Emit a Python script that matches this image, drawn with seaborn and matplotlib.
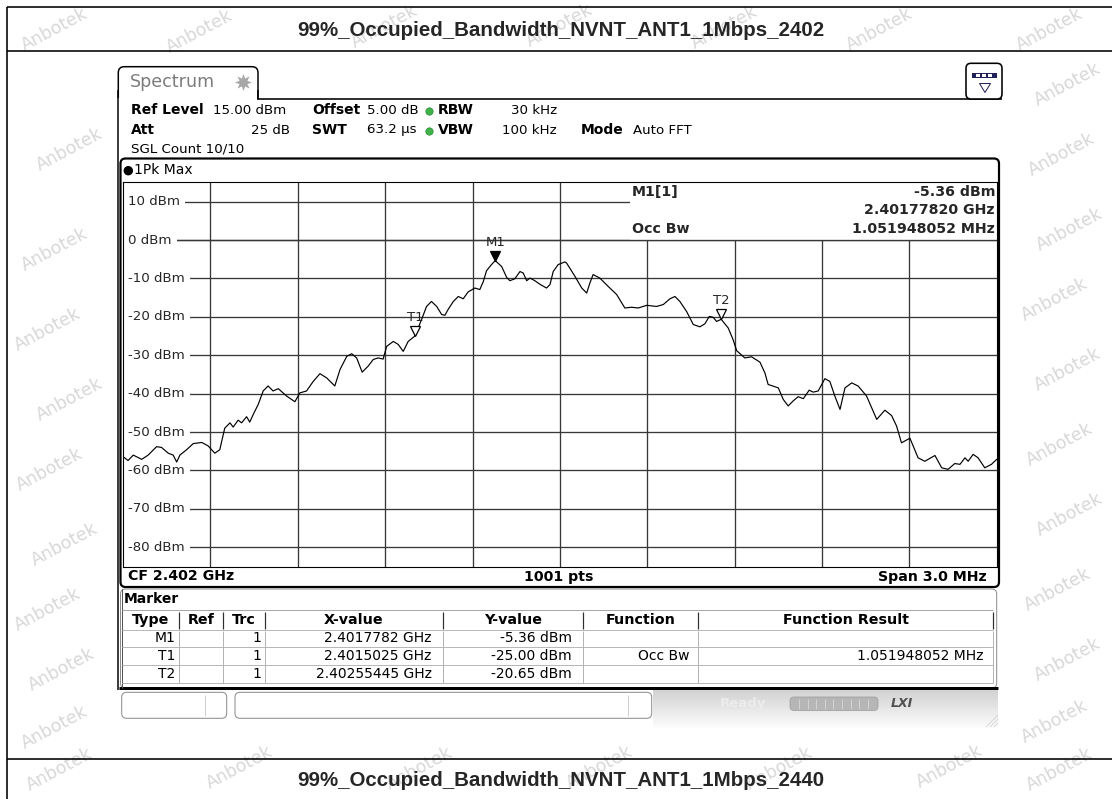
import numpy as np
import pandas as pd
import matplotlib
matplotlib.use("Agg")
import matplotlib.pyplot as plt
import seaborn as sns
from matplotlib.patches import FancyBboxPatch, Rectangle, Polygon
from matplotlib import transforms

# ---------------- data ----------------
page_titles = ["99%_Occupied_Bandwidth_NVNT_ANT1_1Mbps_2402",
               "99%_Occupied_Bandwidth_NVNT_ANT1_1Mbps_2440"]
center_freq_ghz = 2.402
span_mhz = 3.0
ref_level_dbm = 15.0
db_per_div = 10.0
n_points = 1001
level_ticks_dbm = [10, 0, -10, -20, -30, -40, -50, -60, -70, -80]

# trace: offset from centre frequency (MHz) and level (dBm)
trace_offset_mhz = [
    -1.500, -1.483, -1.465, -1.436, -1.414, -1.385, -1.368, -1.345, -1.328, -1.316,
    -1.305, -1.282, -1.259, -1.230, -1.208, -1.185, -1.168, -1.151, -1.133, -1.122,
    -1.105, -1.093, -1.076, -1.065, -1.053, -1.036, -1.019, -1.002, -0.985, -0.967,
    -0.939, -0.910, -0.893, -0.870, -0.847, -0.824, -0.801, -0.773, -0.755, -0.732,
    -0.715, -0.698, -0.679, -0.658, -0.641, -0.624, -0.607, -0.595, -0.572, -0.555,
    -0.538, -0.521, -0.498, -0.475, -0.458, -0.441, -0.423, -0.406, -0.395, -0.384,
    -0.366, -0.349, -0.332, -0.315, -0.292, -0.275, -0.263, -0.252, -0.235, -0.222,
    -0.200, -0.183, -0.172, -0.155, -0.137, -0.126, -0.114, -0.103, -0.086, -0.069,
    -0.046, -0.034, -0.023, -0.006, 0.017, 0.023, 0.052, 0.075, 0.092, 0.103,
    0.114, 0.137, 0.166, 0.195, 0.223, 0.246, 0.269, 0.298, 0.332, 0.355,
    0.378, 0.395, 0.412, 0.435, 0.458, 0.481, 0.498, 0.513, 0.526, 0.538,
    0.554, 0.578, 0.595, 0.607, 0.635, 0.658, 0.687, 0.704, 0.715, 0.750,
    0.767, 0.784, 0.801, 0.818, 0.836, 0.856, 0.870, 0.887, 0.910, 0.927,
    0.944, 0.962, 0.979, 1.002, 1.024, 1.053, 1.088, 1.116, 1.139, 1.156,
    1.173, 1.202, 1.230, 1.253, 1.288, 1.311, 1.333, 1.356, 1.374, 1.391,
    1.402, 1.419, 1.436, 1.459, 1.482, 1.500]
trace_level_dbm = [
    -56.4, -57.4, -56.0, -57.1, -56.0, -53.8, -54.0, -55.5, -56.0, -57.8,
    -56.0, -54.6, -53.0, -52.7, -53.6, -55.5, -54.6, -49.0, -47.6, -48.7,
    -46.9, -47.6, -46.0, -47.4, -45.4, -42.8, -39.3, -38.0, -39.3, -38.7,
    -40.6, -42.1, -39.8, -39.3, -36.8, -34.8, -35.9, -38.0, -33.7, -30.3,
    -29.6, -30.7, -34.4, -32.8, -31.1, -30.7, -31.0, -27.7, -26.4, -27.2,
    -29.0, -26.4, -25.0, -20.7, -17.3, -16.0, -17.3, -19.4, -19.6, -18.1,
    -16.0, -14.7, -15.3, -13.5, -12.5, -12.9, -10.8, -8.0, -6.4, -5.36,
    -6.9, -9.7, -10.6, -10.1, -8.2, -8.6, -10.6, -9.9, -10.6, -11.5,
    -12.5, -11.6, -8.2, -6.4, -5.7, -6.0, -9.5, -12.5, -13.8, -11.2,
    -9.0, -9.9, -12.1, -14.2, -17.7, -17.5, -17.7, -17.0, -17.3, -16.8,
    -15.3, -14.7, -16.0, -18.6, -22.0, -22.6, -21.8, -19.9, -20.1, -21.2,
    -20.65, -22.9, -26.0, -28.8, -30.7, -30.4, -31.8, -34.6, -37.6, -38.5,
    -41.5, -43.2, -41.9, -40.8, -41.3, -39.1, -39.6, -39.3, -36.1, -36.8,
    -40.6, -44.1, -38.5, -37.2, -38.0, -40.6, -46.7, -44.3, -45.7, -48.4,
    -52.8, -51.6, -56.7, -57.6, -56.1, -59.3, -59.7, -58.2, -58.4, -56.7,
    -57.6, -55.8, -56.7, -59.3, -58.4, -57.1]

marker_names = ["M1", "T1", "T2"]
marker_freq_ghz = [2.4017782, 2.4015025, 2.40255445]
marker_freq_text = ["2.4017782 GHz", "2.4015025 GHz", "2.40255445 GHz"]
marker_level_dbm = [-5.36, -25.00, -20.65]
marker_filled = [True, False, False]
marker_trace = ["1", "1", "1"]
marker_function = ["", "Occ Bw", ""]
marker_result = ["", "1.051948052 MHz", ""]
m1_readout_freq = "2.40177820 GHz"
occ_bw_text = "1.051948052 MHz"

table_headers = ["Type", "Ref", "Trc", "X-value", "Y-value", "Function", "Function Result"]

# ---------------- figure ----------------
sns.set_theme(style="white")
plt.rcParams['font.family'] = ['DejaVu Sans']

W, H = 1112, 799
fig = plt.figure(figsize=(W / 100, H / 100), dpi=100)
fig.patch.set_facecolor("white")
bg = fig.add_axes([0, 0, 1, 1], zorder=0)
bg.set_xlim(0, W)
bg.set_ylim(H, 0)
bg.axis("off")

PX = 0.72  # px -> pt


def line(x0, y0, x1, y1, c="black", lw=1.0, z=5):
    bg.plot([x0, x1], [y0, y1], color=c, lw=lw * PX, zorder=z, solid_capstyle="butt")


def txt(x, y, s, size=10, weight="normal", ha="left", va="center", color="black", z=10, **kw):
    bg.text(x, y, s, fontsize=size, fontweight=weight, ha=ha, va=va, color=color, zorder=z, **kw)


# watermarks (kept inside the canvas)
wm = [(55, 30), (200, 32), (385, 27), (560, 26), (725, 28), (880, 30), (1050, 30),
      (70, 150), (55, 250), (48, 330), (70, 400), (50, 470), (65, 545), (48, 610),
      (62, 670), (55, 728), (1068, 85), (1062, 155), (1070, 230), (1055, 300), (1068, 370),
      (1060, 445), (1070, 515), (1058, 590), (1068, 660), (1055, 722),
      (60, 770), (240, 768), (420, 769), (600, 768), (780, 769), (950, 767), (1060, 770)]
for (x, y) in wm:
    txt(x, y, "Anbotek", size=12.5, color="#d8d8d8", ha="center", rotation=28, z=1)

# white area of the screenshot
bg.add_patch(Rectangle((115, 60), 888, 685, fc="white", ec="none", zorder=2))

# page table lines
line(6.7, 7.3, W, 7.3, lw=1.6, z=3)
line(6.7, 7.3, 6.7, H, lw=1.6, z=3)
line(6.7, 50.7, W, 50.7, lw=1.6, z=3)
line(6.7, 759.3, W, 759.3, lw=1.6, z=3)
for yy, t in zip([30, 781], page_titles):
    bg.text(561, yy, t, fontsize=14.8, fontweight="bold", family=["Liberation Sans", "DejaVu Sans"],
            ha="center", va="center", zorder=4)

# tab "Spectrum"
bg.add_patch(FancyBboxPatch((118.3, 66.7), 139.7, 60, boxstyle="round,pad=0,rounding_size=6",
                            fc="white", ec="black", lw=1.5 * PX, zorder=4))
bg.add_patch(Rectangle((116, 98.0), 150, 40, fc="white", ec="none", zorder=4.5))
line(118.3, 90, 118.3, 690, lw=1.5, z=5)
line(258, 90, 258, 98.7, lw=1.5, z=5)
line(257.3, 98.7, 1002, 98.7, lw=1.6, z=5)
txt(130, 82, "Spectrum", size=12.6, color="#7c7c7c", z=6)
bg.scatter([243], [81.5], marker=(8, 1, 0), s=150, color="#a8a8a8", zorder=6, linewidths=0)

# icon box top right
bg.add_patch(FancyBboxPatch((966, 63.3), 36, 35.7, boxstyle="round,pad=0,rounding_size=5",
                            fc="white", ec="black", lw=1.6 * PX, zorder=6))
bg.add_patch(Rectangle((972, 72.7), 25, 5.6, fc="#20205a", ec="none", zorder=7))
for xx in [975.5, 981.5, 987.5]:
    bg.add_patch(Rectangle((xx, 73.9), 4.2, 3.2, fc="white", ec="none", zorder=7.5))
bg.add_patch(Polygon([(979.5, 83.5), (990.5, 83.5), (985, 92.5)], closed=True,
                     fc="white", ec="#20205a", lw=1.0 * PX, zorder=7))

# settings block
vs = 9.6
txt(131, 110, "Ref Level", weight="bold")
txt(213, 110, "15.00 dBm", size=vs)
txt(312, 110, "Offset", weight="bold")
txt(367, 110, "5.00 dB", size=vs)
txt(438, 110, "RBW", weight="bold")
txt(557, 110, "30 kHz", ha="right", size=vs)
txt(131, 130, "Att", weight="bold")
txt(290, 130, "25 dB", ha="right", size=vs)
txt(312, 130, "SWT", weight="bold")
txt(367, 130, "63.2 µs", size=vs)
txt(438, 130, "VBW", weight="bold")
txt(557, 130, "100 kHz", ha="right", size=vs)
txt(581, 130, "Mode", weight="bold")
txt(633, 130, "Auto FFT", size=vs)
txt(131, 149, "SGL Count 10/10", size=vs)
bg.scatter([429, 429], [110.5, 130.5], s=28, color="#3fb24a", edgecolors="#2c8a35",
           linewidths=0.5, zorder=8)

# plot panel frame
bg.add_patch(FancyBboxPatch((120.5, 158.5), 878.5, 428.5, boxstyle="round,pad=0,rounding_size=5",
                            fc="white", ec="black", lw=2.2 * PX, zorder=5))
bg.add_patch(plt.Circle((128.3, 170.7), 4.0, color="black", zorder=6))
txt(134.5, 170.5, "1Pk Max", size=10)
txt(127.5, 576.5, "CF {:.3f} GHz".format(center_freq_ghz), weight="bold", size=10.2)
txt(558.5, 576.5, "{} pts".format(n_points), weight="bold", size=10.2, ha="center")
txt(987, 576.5, "Span {:.1f} MHz".format(span_mhz), weight="bold", size=10.2, ha="right")

# marker panel
bg.add_patch(FancyBboxPatch((120.5, 589), 876.2, 99, boxstyle="round,pad=0,rounding_size=5",
                            fc="white", ec="#8c8c8c", lw=1.0 * PX, zorder=5))
line(119, 688.4, 998, 688.4, lw=3.0, z=6)
line(121.7, 589, 121.7, 688, c="#555555", lw=1.0, z=6)
txt(123.5, 599, "Marker", weight="bold", size=10)
cols = [122, 179, 223, 265, 443, 582.7, 698.3, 993.3]
row_edges = [630, 646.7, 665, 683.3]
line(122, 610, 993.3, 610, c="#a8a8a8", lw=1.0, z=6)
line(122, 630, 993.3, 630, c="#b8b8b8", lw=1.0, z=6)
for yy in row_edges[1:]:
    line(122, yy, 993.3, yy, c="#b8b8b8", lw=1.0, z=6)
for xx in cols[1:]:
    line(xx, 612, xx, 629, c="#303030", lw=1.2, z=6)
    line(xx, 631, xx, 683, c="#b4b4b4", lw=1.0, z=6)
for i, h in enumerate(table_headers):
    txt((cols[i] + cols[i + 1]) / 2, 620, h, weight="bold", size=10.3, ha="center")
row_centers = [(row_edges[i] + row_edges[i + 1]) / 2 for i in range(3)]
for i in range(3):
    yc = row_centers[i]
    txt(175.5, yc, marker_names[i], ha="right")
    txt(261.7, yc, marker_trace[i], ha="right")
    txt(431.7, yc, marker_freq_text[i], ha="right")
    txt(571.7, yc, "{:.2f} dBm".format(marker_level_dbm[i]), ha="right")
    if marker_function[i]:
        txt(689, yc, marker_function[i], ha="right")
    if marker_result[i]:
        txt(983.3, yc, marker_result[i], ha="right")

# status bar
bg.add_patch(FancyBboxPatch((121.7, 692.3), 105, 26, boxstyle="round,pad=0,rounding_size=5",
                            fc="white", ec="#8a8a8a", lw=1.0 * PX, zorder=5))
line(205, 695, 205, 716, c="#cfcfcf", lw=1.0, z=6)
bg.add_patch(FancyBboxPatch((235, 692.3), 416.7, 26, boxstyle="round,pad=0,rounding_size=5",
                            fc="white", ec="#8a8a8a", lw=1.0 * PX, zorder=5))
line(628.3, 695, 628.3, 716, c="#cfcfcf", lw=1.0, z=6)
gy = np.linspace(0.0, 1.0, 40)[:, None]
gx = np.linspace(0.0, 1.0, 120)[None, :]
grad = 0.82 + 0.17 * gy + 0.0 * gx
bg.imshow(grad, extent=[653, 998, 728, 690], cmap="gray", vmin=0, vmax=1,
          aspect="auto", zorder=4, interpolation="bilinear")
txt(720, 703.5, "Ready", weight="bold", size=9.5, color="#ececec", z=7)
bg.add_patch(FancyBboxPatch((790, 697), 88, 13.5, boxstyle="round,pad=0,rounding_size=4",
                            fc="#b6b6b6", ec="#a0a0a0", lw=0.8 * PX, zorder=6))
for xx in np.arange(799, 872, 8.6):
    line(xx, 698.5, xx, 709, c="#d2d2d2", lw=1.0, z=7)
txt(902, 703.5, "LXI", weight="bold", size=9, color="#505050", style="italic", ha="center", z=7)
for k in range(4):
    line(986 + k * 4, 727, 998, 715 + k * 4, c="#d0d0d0", lw=0.8, z=7)

# ---------------- spectrum plot ----------------
PL, PR, PT, PB = 123.1, 996.7, 182.4, 566.5
ax = fig.add_axes([PL / W, 1 - PB / H, (PR - PL) / W, (PB - PT) / H], zorder=3)
ax.set_facecolor("white")
half = span_mhz / 2
ax.set_xlim(-half, half)
ax.set_ylim(ref_level_dbm - 10 * db_per_div, ref_level_dbm)
gc = "#383838"
for v in level_ticks_dbm:
    ax.axhline(v, color=gc, lw=0.95, zorder=1)
for k in range(1, 10):
    ax.axvline(-half + k * span_mhz / 10, color=gc, lw=0.95, zorder=1)

# marker readout box (covers the grid in the upper right)
ax.add_patch(Rectangle((0.24, 0), half - 0.24, ref_level_dbm, fc="white", ec="none", zorder=1.5))
ax.axhline(0, color=gc, lw=0.95, zorder=1.6)
tb = bg.transData
ax.text(631.7, 191.5, "M1[1]", transform=tb, fontsize=10.2, fontweight="bold", va="center", zorder=5)
ax.text(995, 191.5, "{:.2f} dBm".format(marker_level_dbm[0]), transform=tb, fontsize=10.2,
        fontweight="bold", va="center", ha="right", zorder=5)
ax.text(995, 210, m1_readout_freq, transform=tb, fontsize=10.2, fontweight="bold",
        va="center", ha="right", zorder=5)
ax.text(631.7, 229, "Occ Bw", transform=tb, fontsize=10.2, fontweight="bold", va="center", zorder=5)
ax.text(995, 229, occ_bw_text, transform=tb, fontsize=10.2, fontweight="bold",
        va="center", ha="right", zorder=5)

# level labels inside the plot (white backing hides the grid line under the text)
blend = transforms.blended_transform_factory(bg.transData, ax.transData)
for v in level_ticks_dbm:
    ax.text(128.3, v, "{} dBm".format(v), transform=blend, fontsize=9.6, va="center", ha="left",
            zorder=3, bbox=dict(fc="white", ec="none", pad=3.6))

# trace
df = pd.DataFrame({"offset": trace_offset_mhz, "level": trace_level_dbm})
sns.lineplot(data=df, x="offset", y="level", ax=ax, color="black", lw=0.85,
             sort=False, estimator=None, zorder=4)

# markers
tri_tf = transforms.offset_copy(ax.transData, fig=fig, x=0, y=5, units="dots")
for name, f, lv, filled in zip(marker_names, marker_freq_ghz, marker_level_dbm, marker_filled):
    off = (f - center_freq_ghz) * 1000.0
    ax.plot([off], [lv], marker="v", ms=6.5, mfc="black" if filled else "white", mec="black",
            mew=0.9, transform=tri_tf, zorder=6, linestyle="none")
    ax.annotate(name, (off, lv), xytext=(0, 18.5), textcoords="offset pixels", ha="center",
                va="center", fontsize=9.5, zorder=6)

ax.set_xlabel("")
ax.set_ylabel("")
ax.set_xticks([])
ax.set_yticks([])
for s in ax.spines.values():
    s.set_visible(True)
    s.set_color("black")
    s.set_linewidth(1.1 * PX)
    s.set_zorder(8)

fig.savefig("out.png", dpi=100, facecolor="white")
